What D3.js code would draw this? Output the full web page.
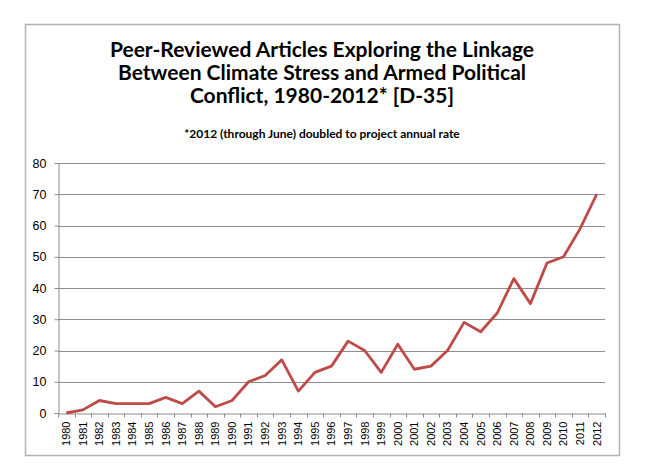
<!DOCTYPE html>
<html>
<head>
<meta charset="utf-8">
<script src="https://cdn.jsdelivr.net/npm/d3@7"></script>
<style>
  body { margin: 0; background: #fff; }
  svg { display: block; }
</style>
</head>
<body>
<div id="chart"></div>
<script>
var years = [1980, 1981, 1982, 1983, 1984, 1985, 1986, 1987, 1988, 1989, 1990,
  1991, 1992, 1993, 1994, 1995, 1996, 1997, 1998, 1999, 2000, 2001, 2002,
  2003, 2004, 2005, 2006, 2007, 2008, 2009, 2010, 2011, 2012];
var articles = [0, 1, 4, 3, 3, 3, 5, 3, 7, 2, 4,
  10, 12, 17, 7, 13, 15, 23, 20, 13, 22, 14, 15,
  20, 29, 26, 32, 43, 35, 48, 50, 59, 70];
var yTicks = [0, 10, 20, 30, 40, 50, 60, 70, 80];
var titleLines = ["Peer-Reviewed Articles Exploring the Linkage",
  "Between Climate Stress and Armed Political",
  "Conflict, 1980-2012* [D-35]"];
var subtitle = "*2012 (through June) doubled to project annual rate";

var width = 645, height = 469;
var plotLeft = 58, plotRight = 605,
  plotTop = 163, plotBottom = 413;

var svg = d3.select("#chart").append("svg")
  .attr("width", width)
  .attr("height", height);

// frame
svg.append("rect")
  .attr("x", 25.5).attr("y", 24.5)
  .attr("width", 594).attr("height", 431)
  .attr("fill", "#fff")
  .attr("stroke", "#b4b4b4")
  .attr("stroke-width", 1.5);

// TITLE
svg.selectAll(".title")
  .data(titleLines).enter()
  .append("text")
  .attr("class", "title")
  .attr("x", 322)
  .attr("y", function(d, i){ return 57 + i*23; })
  .attr("text-anchor", "middle")
  .attr("font-family", "Lato, 'Open Sans', sans-serif")
  .attr("font-weight", "bold")
  .attr("font-size", "21px")
  .attr("fill", "#000")
  .text(function(d){ return d; });

svg.append("text")
  .attr("x", 322)
  .attr("y", 138)
  .attr("text-anchor", "middle")
  .attr("font-family", "Lato, 'Open Sans', sans-serif")
  .attr("font-weight", "bold")
  .attr("font-size", "12px")
  .attr("fill", "#000")
  .text(subtitle);

// SCALES
var x = d3.scaleBand()
  .domain(years)
  .range([plotLeft, plotRight]);

var y = d3.scaleLinear()
  .domain([0, 80])
  .range([plotBottom, plotTop]);

// gridlines
svg.append("g")
  .selectAll("line")
  .data(yTicks.slice(1)).enter()
  .append("line")
  .attr("x1", plotLeft).attr("x2", plotRight)
  .attr("y1", function(d){ return Math.round(y(d)) + 0.5; })
  .attr("y2", function(d){ return Math.round(y(d)) + 0.5; })
  .attr("stroke", "#8c8c8c")
  .attr("stroke-width", 1);

// Y AXIS
var yAxis = svg.append("g")
  .attr("transform", "translate(" + (plotLeft + 0.5) + ",0)")
  .call(d3.axisLeft(y).tickValues(yTicks).tickSize(4).tickPadding(8));
yAxis.selectAll("path, line").attr("stroke", "#8c8c8c");
yAxis.selectAll("text")
  .attr("font-family", "'Liberation Sans', Arial, sans-serif")
  .attr("font-size", "12.5px")
  .attr("fill", "#000");

// X AXIS
var xAxis = svg.append("g")
  .attr("transform", "translate(0," + (plotBottom + 0.5) + ")")
  .call(d3.axisBottom(x).tickSize(0).tickSizeOuter(0));
xAxis.select("path").attr("stroke", "#8c8c8c");
xAxis.selectAll("text")
  .attr("font-family", "'Liberation Sans', Arial, sans-serif")
  .attr("font-size", "11px")
  .attr("fill", "#000")
  .attr("transform", "rotate(-90)")
  .attr("text-anchor", "end")
  .attr("dy", "0.35em")
  .attr("x", -8)
  .attr("y", 0);

// category boundary ticks
var bounds = years.map(function(d){ return x(d); }).concat([plotRight]);
xAxis.selectAll(".btick")
  .data(bounds).enter()
  .append("line")
  .attr("class", "btick")
  .attr("x1", function(d){ return Math.round(d) + 0.5; })
  .attr("x2", function(d){ return Math.round(d) + 0.5; })
  .attr("y1", 0).attr("y2", 4)
  .attr("stroke", "#8c8c8c");

// LINE
var line = d3.line()
  .x(function(d, i){ return x(years[i]) + x.bandwidth()/2; })
  .y(function(d){ return y(d); });

svg.append("path")
  .datum(articles)
  .attr("d", line)
  .attr("fill", "none")
  .attr("stroke", "#be4b48")
  .attr("stroke-width", 2.8)
  .attr("stroke-linejoin", "round");
</script>
</body>
</html>
